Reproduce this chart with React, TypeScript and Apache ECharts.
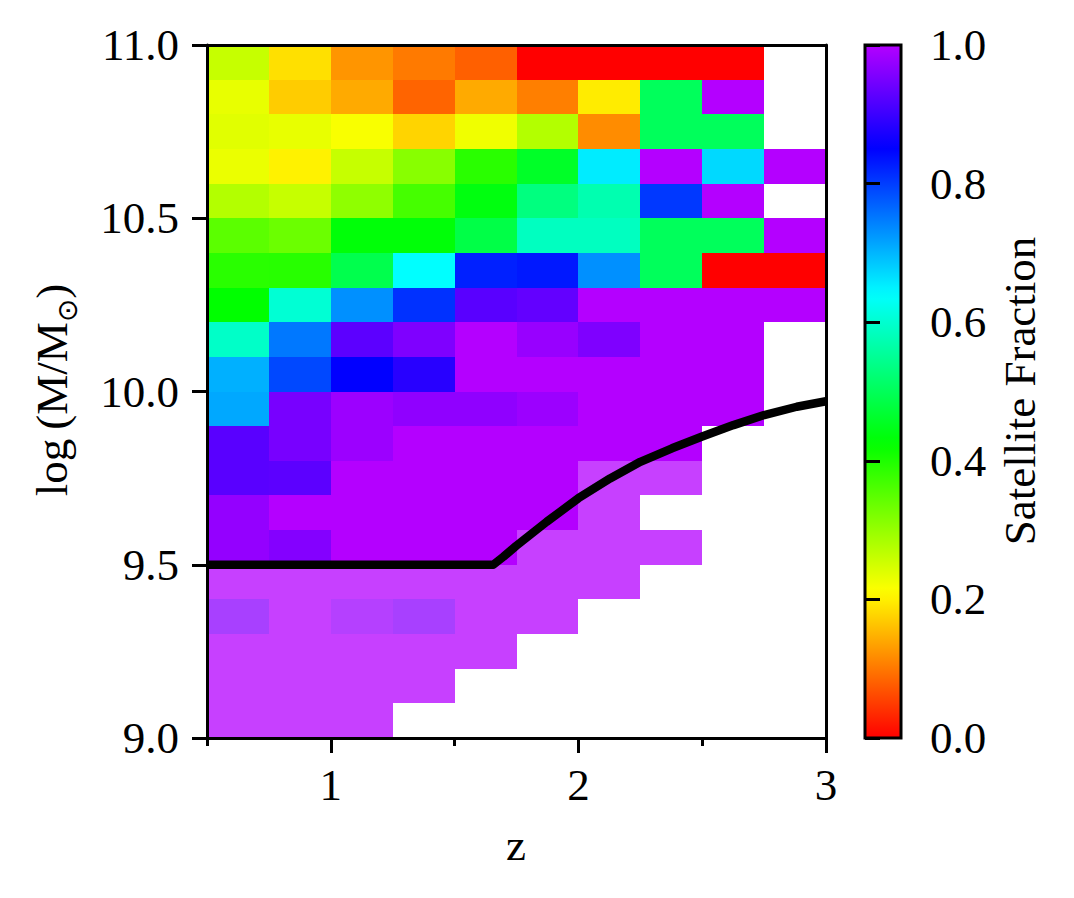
import React, { useEffect, useRef } from "react";
import * as echarts from "echarts";

// ---- data ----
// redshift bin edges (x) and log stellar-mass bin edges (y)
const zEdges = [0.5, 0.75, 1.0, 1.25, 1.5, 1.75, 2.0, 2.25, 2.5, 2.75, 3.0];
const massEdges = [
  9.0, 9.1, 9.2, 9.3, 9.4, 9.5, 9.6, 9.7, 9.8, 9.9, 10.0,
  10.1, 10.2, 10.3, 10.4, 10.5, 10.6, 10.7, 10.8, 10.9, 11.0,
];

// satellite fraction per cell; rows from top (10.9–11.0) to bottom (9.0–9.1); null = no galaxies
const satFraction: (number | null)[][] = [
  [0.26, 0.187, 0.124, 0.102, 0.08, 0.0, 0.0, 0.0, 0.0, null],
  [0.232, 0.17, 0.142, 0.083, 0.142, 0.106, 0.197, 0.502, 1.0, null],
  [0.238, 0.232, 0.218, 0.177, 0.225, 0.276, 0.117, 0.502, 0.502, null],
  [0.229, 0.202, 0.26, 0.312, 0.391, 0.459, 0.655, 1.0, 0.671, 1.0],
  [0.276, 0.26, 0.306, 0.368, 0.438, 0.532, 0.573, 0.804, 1.0, null],
  [0.349, 0.336, 0.432, 0.432, 0.485, 0.586, 0.586, 0.502, 0.502, 1.0],
  [0.391, 0.393, 0.49, 0.639, 0.824, 0.831, 0.731, 0.502, 0.0, 0.0],
  [0.425, 0.603, 0.731, 0.81, 0.924, 0.933, 1.0, 1.0, 1.0, 1.0],
  [0.593, 0.751, 0.927, 0.956, 1.0, 0.977, 0.956, 1.0, 1.0, null],
  [0.705, 0.791, 0.851, 0.884, 1.0, 1.0, 1.0, 1.0, 1.0, null],
  [0.711, 0.95, 0.98, 0.97, 0.97, 0.98, 1.0, 1.0, 1.0, null],
  [0.924, 0.95, 0.98, 1.0, 1.0, 1.0, 1.0, 1.0, null, null],
  [0.924, 0.927, 1.0, 1.0, 1.0, 1.0, 1.0, 1.0, null, null],
  [0.973, 1.0, 1.0, 1.0, 1.0, 1.0, 1.0, null, null, null],
  [0.973, 0.96, 1.0, 1.0, 1.0, 1.0, 1.0, 1.0, null, null],
  [1.0, 1.0, 1.0, 1.0, 1.0, 1.0, 1.0, null, null, null],
  [0.966, 1.0, 0.98, 0.966, 1.0, 1.0, null, null, null, null],
  [1.0, 1.0, 1.0, 1.0, 1.0, null, null, null, null, null],
  [1.0, 1.0, 1.0, 1.0, null, null, null, null, null, null],
  [1.0, 1.0, 1.0, null, null, null, null, null, null, null],
];

// 1 = cell below the mass-completeness limit (drawn translucent)
const belowLimit: number[][] = [
  [0, 0, 0, 0, 0, 0, 0, 0, 0, 0],
  [0, 0, 0, 0, 0, 0, 0, 0, 0, 0],
  [0, 0, 0, 0, 0, 0, 0, 0, 0, 0],
  [0, 0, 0, 0, 0, 0, 0, 0, 0, 0],
  [0, 0, 0, 0, 0, 0, 0, 0, 0, 0],
  [0, 0, 0, 0, 0, 0, 0, 0, 0, 0],
  [0, 0, 0, 0, 0, 0, 0, 0, 0, 0],
  [0, 0, 0, 0, 0, 0, 0, 0, 0, 0],
  [0, 0, 0, 0, 0, 0, 0, 0, 0, 0],
  [0, 0, 0, 0, 0, 0, 0, 0, 0, 0],
  [0, 0, 0, 0, 0, 0, 0, 0, 0, 0],
  [0, 0, 0, 0, 0, 0, 0, 0, 0, 0],
  [0, 0, 0, 0, 0, 0, 1, 1, 0, 0],
  [0, 0, 0, 0, 0, 0, 1, 0, 0, 0],
  [0, 0, 0, 0, 0, 1, 1, 1, 0, 0],
  [1, 1, 1, 1, 1, 1, 1, 0, 0, 0],
  [1, 1, 1, 1, 1, 1, 0, 0, 0, 0],
  [1, 1, 1, 1, 1, 0, 0, 0, 0, 0],
  [1, 1, 1, 1, 0, 0, 0, 0, 0, 0],
  [1, 1, 1, 0, 0, 0, 0, 0, 0, 0],
];

// mass-completeness limit curve
const limitZ = [0.5, 1.656, 1.697, 1.748, 1.872, 2.0, 2.128, 2.25, 2.378, 2.5, 2.626, 2.75, 2.882, 3.0];
const limitMass = [9.5, 9.5, 9.523, 9.554, 9.624, 9.692, 9.749, 9.797, 9.836, 9.87, 9.903, 9.932, 9.956, 9.972];

const xTickMajor = [1, 2, 3];
const xTickMinor = [0.5, 1.5, 2.5];

// ---- colormap (gist_rainbow, truncated) ----
const RAINBOW: [number, number, number, number][] = [
  [0.0, 1, 0, 0.16],
  [0.03, 1, 0, 0],
  [0.215, 1, 1, 0],
  [0.4, 0, 1, 0],
  [0.586, 0, 1, 1],
  [0.77, 0, 0, 1],
  [0.954, 1, 0, 1],
  [1.0, 1, 0, 0.75],
];
function cmap(v: number): [number, number, number] {
  const g = 0.03 + 0.87 * Math.min(1, Math.max(0, v));
  for (let i = 0; i < RAINBOW.length - 1; i++) {
    const a = RAINBOW[i];
    const b = RAINBOW[i + 1];
    if (g >= a[0] && g <= b[0]) {
      const t = (g - a[0]) / (b[0] - a[0]);
      return [
        Math.round(255 * (a[1] + (b[1] - a[1]) * t)),
        Math.round(255 * (a[2] + (b[2] - a[2]) * t)),
        Math.round(255 * (a[3] + (b[3] - a[3]) * t)),
      ];
    }
  }
  return [255, 0, 0];
}

const FONT = "'Liberation Serif', 'Times New Roman', serif";
const SYMFONT = "'DejaVu Sans', sans-serif";
const FS = 45;
const SUBFS = 28;

function measure(text: string, font: string): number {
  const c = document.createElement("canvas").getContext("2d");
  if (!c) return text.length * 20;
  c.font = font;
  return c.measureText(text).width;
}

export default function App() {
  const ref = useRef<HTMLDivElement>(null);

  useEffect(() => {
    if (!ref.current) return;
    const chart = echarts.init(ref.current, undefined, { renderer: "svg" });

    const nRows = massEdges.length - 1;
    const cells: number[][] = [];
    satFraction.forEach((row, r) => {
      const mi = nRows - 1 - r;
      row.forEach((v, c) => {
        if (v === null) return;
        cells.push([zEdges[c], zEdges[c + 1], massEdges[mi], massEdges[mi + 1], v, belowLimit[r][c]]);
      });
    });

    const lineData = limitZ.map((z, i) => [z, limitMass[i]]);

    const stops = [];
    const N = 60;
    for (let i = 0; i <= N; i++) {
      const t = i / N;
      const [r, g, b] = cmap(t);
      stops.push({ offset: t, color: `rgb(${r},${g},${b})` });
    }

    // y-axis title pieces: "log (M/M" + subscript ⊙ + ")"
    const t1 = "log\u2009(M/M";
    const t2 = "\u2299";
    const t3 = ")";
    const w1 = measure(t1, `${FS}px ${FONT}`);
    const w2 = measure(t2, `${SUBFS}px ${SYMFONT}`);
    const w3 = measure(t3, `${FS}px ${FONT}`);
    const x0 = -(w1 + w2 + w3) / 2;

    const axisLine = { show: true, lineStyle: { color: "#000", width: 3 } };
    const tickStyle = { color: "#000", width: 3 };
    const labelStyle = { color: "#000", fontFamily: FONT, fontSize: FS };

    const option: any = {
      animation: false,
      backgroundColor: "#fff",
      grid: [
        { left: 207, top: 45, width: 619, height: 693, containLabel: false },
        { left: 865, top: 45, width: 36, height: 693, containLabel: false },
      ],
      xAxis: [
        {
          type: "value", gridIndex: 0, min: 0.5, max: 3, position: "bottom", z: 10,
          axisLine,
          axisTick: { show: true, customValues: xTickMajor, length: 15, lineStyle: tickStyle },
          axisLabel: { ...labelStyle, customValues: xTickMajor, margin: 24, formatter: (v: number) => String(v) },
          splitLine: { show: false },
        },
        {
          type: "value", gridIndex: 0, min: 0.5, max: 3, position: "bottom", z: 10,
          axisLine: { show: false },
          axisTick: { show: true, customValues: xTickMinor, length: 8, lineStyle: tickStyle },
          axisLabel: { show: false },
          splitLine: { show: false },
        },
        {
          type: "value", gridIndex: 0, min: 0.5, max: 3, position: "top", z: 10,
          axisLine, axisTick: { show: false }, axisLabel: { show: false }, splitLine: { show: false },
        },
        {
          type: "value", gridIndex: 1, min: 0, max: 1, show: false,
        },
      ],
      yAxis: [
        {
          type: "value", gridIndex: 0, min: 9, max: 11, interval: 0.5, position: "left", z: 10,
          axisLine,
          axisTick: { show: true, length: 15, lineStyle: tickStyle },
          axisLabel: { ...labelStyle, margin: 28, formatter: (v: number) => v.toFixed(1) },
          splitLine: { show: false },
        },
        {
          type: "value", gridIndex: 0, min: 9, max: 11, position: "right", z: 10,
          axisLine, axisTick: { show: false }, axisLabel: { show: false }, splitLine: { show: false },
        },
        {
          type: "value", gridIndex: 1, min: 0, max: 1, interval: 0.2, position: "right", z: 10,
          axisLine: { show: false },
          axisTick: { show: true, length: 15, lineStyle: tickStyle },
          axisLabel: { ...labelStyle, margin: 29, formatter: (v: number) => v.toFixed(1) },
          splitLine: { show: false },
        },
      ],
      series: [
        {
          type: "custom",
          xAxisIndex: 0,
          yAxisIndex: 0,
          z: 2,
          data: cells,
          encode: { x: [0, 1], y: [2, 3] },
          renderItem: (_p: any, api: any) => {
            const a = api.coord([api.value(0), api.value(3)]);
            const b = api.coord([api.value(1), api.value(2)]);
            const x = Math.round(a[0]);
            const y = Math.round(a[1]);
            const w = Math.round(b[0]) - x;
            const h = Math.round(b[1]) - y;
            const [r, g, bl] = cmap(api.value(4));
            const alpha = api.value(5) ? 0.75 : 1;
            return {
              type: "rect",
              shape: { x, y, width: w, height: h },
              style: { fill: `rgba(${r},${g},${bl},${alpha})` },
            };
          },
        },
        {
          type: "line",
          xAxisIndex: 0,
          yAxisIndex: 0,
          z: 5,
          data: lineData,
          showSymbol: false,
          symbol: "none",
          lineStyle: { color: "#000", width: 8.5, cap: "butt", join: "round" },
        },
        {
          type: "line",
          xAxisIndex: 3,
          yAxisIndex: 2,
          data: [],
          symbol: "none",
        },
      ],
      graphic: [
        {
          type: "rect",
          z: 1,
          shape: { x: 865, y: 45, width: 36, height: 693 },
          style: {
            fill: new echarts.graphic.LinearGradient(0, 1, 0, 0, stops),
            stroke: "#000",
            lineWidth: 3,
          },
        },
        {
          type: "group",
          x: 52,
          y: 390,
          rotation: Math.PI / 2,
          children: [
            {
              type: "text",
              x: x0,
              y: 0,
              style: { text: t1, align: "left", verticalAlign: "middle", fill: "#000", font: `${FS}px ${FONT}` },
            },
            {
              type: "text",
              x: x0 + w1 + w2 / 2,
              y: 15,
              style: { text: t2, align: "center", verticalAlign: "middle", fill: "#000", font: `${SUBFS}px ${SYMFONT}` },
            },
            {
              type: "text",
              x: x0 + w1 + w2,
              y: 0,
              style: { text: t3, align: "left", verticalAlign: "middle", fill: "#000", font: `${FS}px ${FONT}` },
            },
          ],
        },
        {
          type: "text",
          x: 516,
          y: 845,
          style: {
            text: "z",
            align: "center",
            verticalAlign: "middle",
            fill: "#000",
            font: `${FS}px ${FONT}`,
          },
        },
        {
          type: "text",
          x: 1020,
          y: 391,
          rotation: Math.PI / 2,
          style: {
            text: "Satellite Fraction",
            align: "center",
            verticalAlign: "middle",
            fill: "#000",
            font: `${FS}px ${FONT}`,
          },
        },
      ],
    };

    chart.setOption(option);
    return () => chart.dispose();
  }, []);

  return (
    <div
      ref={ref}
      style={{ position: "absolute", left: 0, top: 0, width: 1074, height: 898, background: "#fff" }}
    />
  );
}
